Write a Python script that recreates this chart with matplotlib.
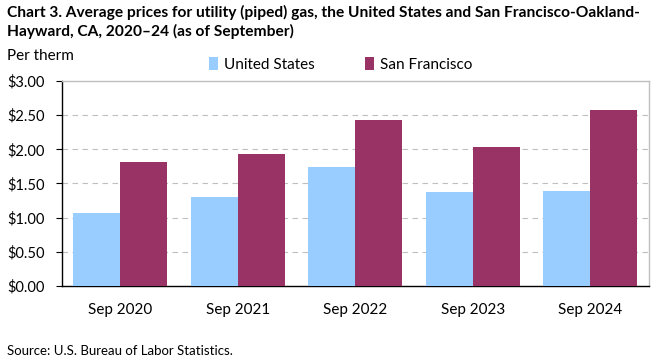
import matplotlib

matplotlib.use("Agg")
import matplotlib.pyplot as plt
import numpy as np

plt.rcParams["font.family"] = ["Lato", "DejaVu Sans"]

categories = ["Sep 2020", "Sep 2021", "Sep 2022", "Sep 2023", "Sep 2024"]
us_prices = [1.07, 1.305, 1.745, 1.378, 1.393]
sf_prices = [1.82, 1.935, 2.434, 2.038, 2.58]
yticks = [0.0, 0.5, 1.0, 1.5, 2.0, 2.5, 3.0]

US_COLOR = "#99ccff"
SF_COLOR = "#993366"

fig = plt.figure(figsize=(6.61, 3.61), dpi=100)
ax = fig.add_axes([0.0933, 0.2078, 0.8885, 0.5678])

x = np.arange(len(categories))
w = 0.4
ax.bar(x - w / 2, us_prices, width=w, color=US_COLOR, label="United States", zorder=3)
ax.bar(x + w / 2, sf_prices, width=w, color=SF_COLOR, label="San Francisco", zorder=3)

ax.set_xlim(-0.5, len(categories) - 0.5)
ax.set_ylim(0, 3.0)
ax.set_yticks(yticks)
ax.set_yticklabels([f"${v:.2f}" for v in yticks], fontsize=10.5)
ax.set_xticks(x)
ax.set_xticklabels(categories, fontsize=11)
ax.tick_params(axis="x", length=0, pad=12)
ax.tick_params(axis="y", length=4, width=0.8, pad=8)

# dashed gridlines between the bottom and top
for v in yticks[1:-1]:
    ax.axhline(v, color="#bfbfbf", linestyle=(0, (5, 4)), linewidth=0.8, zorder=1)

for side in ("left", "bottom"):
    ax.spines[side].set_color("black")
    ax.spines[side].set_linewidth(1.0)
for side in ("top", "right"):
    ax.spines[side].set_color("#bfbfbf")
    ax.spines[side].set_linewidth(1.0)

fig.text(0.011, 0.985,
         "Chart 3. Average prices for utility (piped) gas, the United States and San Francisco-Oakland-\n"
         "Hayward, CA, 2020\u201324 (as of September)",
         fontsize=11.2, fontweight="bold", va="top", ha="left", linespacing=1.25)
fig.text(0.011, 0.845, "Per therm", fontsize=11, va="center", ha="left")

ax.legend(loc="lower left", bbox_to_anchor=(0.24, 1.015), ncol=2, frameon=False,
          fontsize=11, handlelength=0.6, handleheight=0.9, handletextpad=0.4,
          columnspacing=3.3, borderaxespad=0)

fig.text(0.011, 0.012, "Source: U.S. Bureau of Labor Statistics.", fontsize=9.5,
         va="bottom", ha="left")

fig.savefig("out.png", dpi=100)
